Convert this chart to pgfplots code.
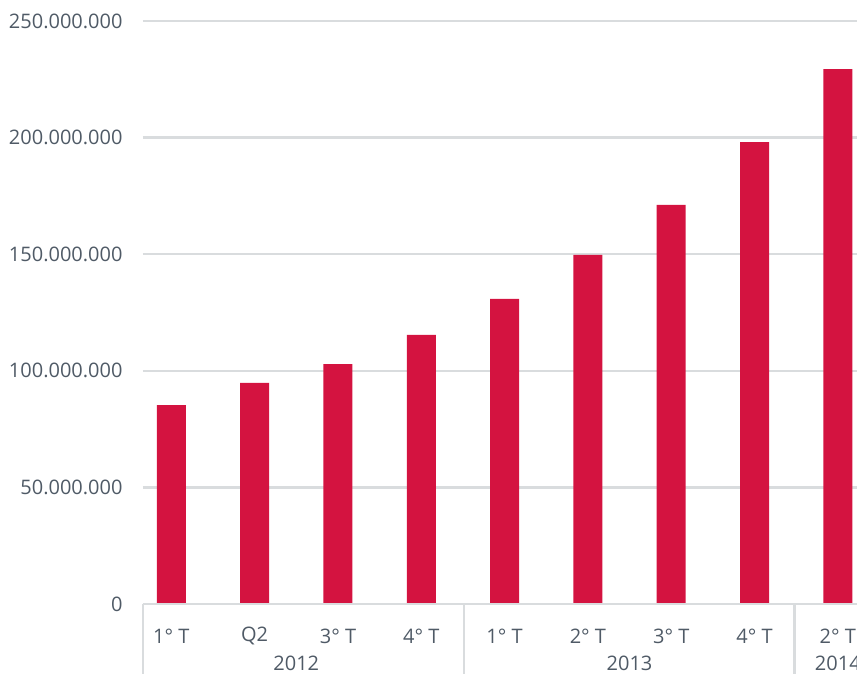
\documentclass[border=0pt]{standalone}
\usepackage{pgfplots}
\pgfplotsset{compat=1.18}
\usepackage{fontspec}
\setmainfont{Open Sans}
\definecolor{barred}{HTML}{D41340}
\definecolor{txt}{HTML}{4F5A66}
\definecolor{gridc}{HTML}{D9DCDE}
\begin{document}
\begin{tikzpicture}
\useasboundingbox (-71.5pt,-35pt) rectangle (357pt,302pt);
\clip (-71.5pt,-35pt) rectangle (357pt,302pt);
\begin{axis}[
  at={(0,0)}, anchor=south west,
  scale only axis,
  width=357pt, height=291.5pt,
  xmin=-0.34, xmax=8.23,
  ymin=0, ymax=250000000,
  ytick={0,50000000,100000000,150000000,200000000,250000000},
  scaled y ticks=false,
  /pgf/number format/fixed,
  /pgf/number format/1000 sep={.},
  /pgf/number format/assume math mode=true,
  yticklabel style={font=\fontsize{10}{12}\selectfont, text=txt, anchor=east, xshift=-6.7pt},
  xtick={0,1,2,3,4,5,6,7,8},
  xticklabels={1° T, Q2, 3° T, 4° T, 1° T, 2° T, 3° T, 4° T, 2° T},
  xticklabel style={font=\fontsize{10}{12}\selectfont, text=txt, anchor=center, yshift=-16pt},
  major tick length=0pt,
  ymajorgrids,
  grid style={gridc, line width=1.2pt},
  axis line style={draw=none},
  axis x line*=bottom,
  axis y line*=left,
  clip=false,
  ybar, bar width=14.5pt,
]
\addplot[fill=barred, draw=none] coordinates {
(0,85300000) (1,94800000) (2,102900000) (3,115400000)
(4,130800000) (5,149700000) (6,171100000) (7,198100000) (8,229400000)};
\draw[gridc, line width=1.3pt] (axis cs:-0.34,0) -- (axis cs:8.23,0);
\draw[gridc, line width=1.2pt] (axis cs:-0.34,0) -- ++(0pt,-36pt);
\draw[gridc, line width=1.2pt] (axis cs:3.51,0) -- ++(0pt,-36pt);
\draw[gridc, line width=1.2pt] (axis cs:7.48,0) -- ++(0pt,-36pt);
\node[font=\fontsize{10}{12}\selectfont, text=txt] at ([yshift=-29.5pt]axis cs:1.5,0) {2012};
\node[font=\fontsize{10}{12}\selectfont, text=txt] at ([yshift=-29.5pt]axis cs:5.5,0) {2013};
\node[font=\fontsize{10}{12}\selectfont, text=txt] at ([yshift=-29.5pt]axis cs:8,0) {2014};
\end{axis}
\end{tikzpicture}
\end{document}
